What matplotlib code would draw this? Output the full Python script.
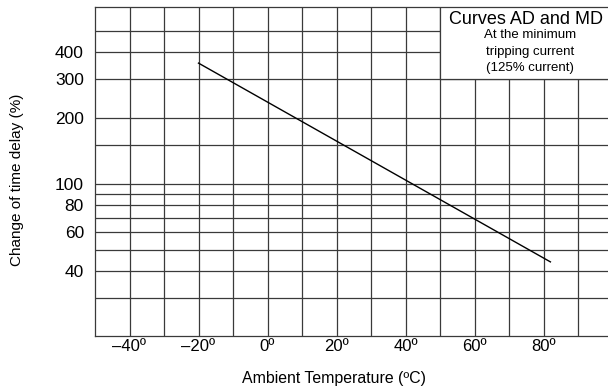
import numpy as np
import matplotlib.pyplot as plt
from matplotlib.patches import Rectangle

plt.rcParams['font.family'] = ['Liberation Sans', 'DejaVu Sans']

# 数据
temp = [-20, 82]          # 环境温度 (ºC)
delay = [355, 44]         # 时间延迟变化 (%)
x_ticks = [-40, -20, 0, 20, 40, 60, 80]
x_labels = ['–40º', '–20º', '0º', '20º', '40º', '60º', '80º']
x_grid = [-40, -30, -20, -10, 0, 10, 20, 30, 40, 50, 60, 70, 80, 90]
y_ticks = [40, 60, 80, 100, 200, 300, 400]
y_grid = [30, 40, 50, 60, 70, 80, 90, 100, 150, 200, 300, 400, 500]

fig = plt.figure(figsize=(6.08, 3.87), dpi=100)
ax = fig.add_axes([95 / 608, 1 - 336 / 387, 1 - 95 / 608, (336 - 7) / 387])
xmax = -50 + (608 - 95) / 3.45
ax.set_xlim(-50, xmax)
ax.set_yscale('log')
ax.set_ylim(20.2, 640)

gc = '#3a3a3a'
for xv in x_grid:
    ax.axvline(xv, color=gc, lw=0.9, zorder=1)
for yv in y_grid:
    ax.axhline(yv, color=gc, lw=0.9, zorder=1)

# 右上角说明框
ax.add_patch(Rectangle((50, 300), xmax - 50 + 5, 1000, facecolor='white',
                       edgecolor=gc, lw=0.9, zorder=2))

ax.plot(temp, delay, color='black', lw=1.0, zorder=3)

ax.set_xticks(x_ticks)
ax.set_xticklabels(x_labels, fontsize=12)
ax.set_yticks(y_ticks)
ax.set_yticklabels([str(v) for v in y_ticks], fontsize=12.5)
ax.yaxis.set_minor_locator(plt.NullLocator())
ax.tick_params(axis='x', length=0, pad=2)
ax.tick_params(axis='y', length=0, pad=8)
ax.spines['right'].set_visible(False)
for s in ['left', 'top', 'bottom']:
    ax.spines[s].set_color(gc)
    ax.spines[s].set_linewidth(0.9)

fig.text(526 / 608, 1 - 20 / 387, 'Curves AD and MD', fontsize=13,
         ha='center', va='center')
fig.text(530 / 608, 1 - 35 / 387, 'At the minimum', fontsize=9.5, ha='center', va='center')
fig.text(530 / 608, 1 - 52 / 387, 'tripping current', fontsize=9.5, ha='center', va='center')
fig.text(530 / 608, 1 - 68 / 387, '(125% current)', fontsize=9.5, ha='center', va='center')

fig.text(334 / 608, 1 - 378 / 387, 'Ambient Temperature (ºC)', fontsize=11.4,
         ha='center', va='center')
fig.text(17.5 / 608, 1 - 180 / 387, 'Change of time delay (%)', fontsize=11,
         ha='center', va='center', rotation=90)

fig.savefig('out.png', dpi=100)
